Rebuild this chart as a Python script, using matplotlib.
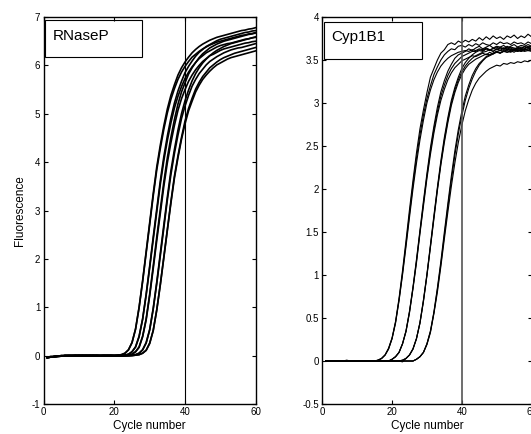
import matplotlib
matplotlib.use("Agg")
import matplotlib.pyplot as plt
from matplotlib.patches import Rectangle

# --------------------------
# DATA
# --------------------------
cycles = list(range(1, 61))

# RNaseP amplification curves (fluorescence per cycle 1..60)
rnasep_1a = [-0.04, -0.03, -0.02, -0.01, -0.01, 0.0, 0.0, 0.0, 0.0, 0.01, 0.0, 0.0, 0.0, 0.0, 0.0, 0.0, 0.0, 0.0, 0.0, 0.0,
             0.01, 0.02, 0.05, 0.12, 0.27, 0.55, 1.0, 1.55, 2.15, 2.75, 3.35, 3.9, 4.35, 4.75, 5.1, 5.38, 5.6, 5.8, 5.95, 6.07,
             6.17, 6.26, 6.33, 6.39, 6.44, 6.48, 6.52, 6.55, 6.58, 6.6, 6.62, 6.64, 6.66, 6.68, 6.7, 6.72, 6.73, 6.75, 6.76, 6.78]
rnasep_1b = [-0.05, -0.03, -0.02, -0.02, -0.01, -0.01, 0.0, 0.0, 0.0, 0.0, 0.0, 0.0, 0.01, 0.0, 0.0, 0.0, 0.0, 0.0, 0.0, 0.0,
             0.01, 0.02, 0.05, 0.12, 0.27, 0.55, 0.99, 1.53, 2.12, 2.71, 3.3, 3.84, 4.28, 4.68, 5.02, 5.3, 5.52, 5.71, 5.86, 5.98,
             6.08, 6.17, 6.23, 6.29, 6.34, 6.38, 6.42, 6.45, 6.48, 6.5, 6.52, 6.54, 6.56, 6.58, 6.6, 6.62, 6.63, 6.65, 6.66, 6.68]
rnasep_2a = [-0.03, -0.03, -0.02, -0.01, 0.0, 0.0, 0.0, 0.0, 0.0, 0.0, 0.01, 0.0, 0.0, 0.0, 0.0, 0.0, 0.0, 0.0, 0.0, 0.0,
             0.0, 0.0, 0.01, 0.03, 0.08, 0.18, 0.4, 0.76, 1.27, 1.85, 2.45, 3.03, 3.61, 4.11, 4.54, 4.91, 5.22, 5.47, 5.67, 5.85,
             5.98, 6.09, 6.19, 6.27, 6.33, 6.39, 6.43, 6.47, 6.51, 6.54, 6.56, 6.58, 6.6, 6.62, 6.64, 6.66, 6.68, 6.69, 6.71, 6.72]
rnasep_2b = [-0.04, -0.03, -0.02, -0.01, -0.01, 0.0, 0.0, 0.0, 0.0, 0.0, 0.0, 0.0, 0.0, 0.01, 0.0, 0.0, 0.0, 0.0, 0.0, 0.0,
             0.0, 0.0, 0.01, 0.03, 0.08, 0.18, 0.39, 0.75, 1.25, 1.82, 2.4, 2.97, 3.54, 4.03, 4.45, 4.81, 5.12, 5.36, 5.56, 5.73,
             5.86, 5.97, 6.06, 6.14, 6.2, 6.26, 6.3, 6.34, 6.38, 6.41, 6.43, 6.45, 6.46, 6.48, 6.5, 6.52, 6.54, 6.55, 6.57, 6.58]
rnasep_3a = [-0.03, -0.02, -0.02, -0.01, 0.0, 0.0, 0.0, 0.0, 0.0, 0.0, 0.0, 0.01, 0.0, 0.0, 0.0, 0.0, 0.0, 0.0, 0.0, 0.0,
             0.0, 0.0, 0.0, 0.01, 0.03, 0.08, 0.18, 0.4, 0.76, 1.27, 1.85, 2.45, 3.02, 3.59, 4.09, 4.51, 4.88, 5.2, 5.45, 5.64,
             5.82, 5.95, 6.06, 6.16, 6.24, 6.3, 6.36, 6.4, 6.44, 6.47, 6.5, 6.52, 6.54, 6.56, 6.58, 6.6, 6.62, 6.64, 6.65, 6.67]
rnasep_3b = [-0.04, -0.02, -0.02, -0.01, -0.01, 0.0, 0.0, 0.0, 0.01, 0.0, 0.0, 0.0, 0.0, 0.0, 0.0, 0.0, 0.0, 0.0, 0.0, 0.0,
             0.0, 0.0, 0.0, 0.01, 0.03, 0.08, 0.17, 0.39, 0.74, 1.24, 1.8, 2.38, 2.94, 3.5, 3.99, 4.4, 4.76, 5.07, 5.31, 5.5,
             5.67, 5.8, 5.91, 6.0, 6.08, 6.14, 6.2, 6.23, 6.27, 6.31, 6.34, 6.36, 6.38, 6.4, 6.42, 6.44, 6.46, 6.47, 6.49, 6.5]
rnasep_4a = [-0.03, -0.03, -0.02, -0.01, 0.0, 0.0, 0.0, 0.0, 0.0, 0.0, 0.0, 0.0, 0.0, 0.0, 0.01, 0.0, 0.0, 0.0, 0.0, 0.0,
             0.0, 0.0, 0.0, 0.0, 0.01, 0.02, 0.05, 0.12, 0.27, 0.54, 0.98, 1.52, 2.11, 2.7, 3.28, 3.82, 4.26, 4.66, 5.0, 5.27,
             5.49, 5.68, 5.83, 5.95, 6.05, 6.13, 6.2, 6.26, 6.31, 6.35, 6.39, 6.42, 6.45, 6.47, 6.49, 6.51, 6.53, 6.55, 6.57, 6.59]
rnasep_4b = [-0.04, -0.03, -0.02, -0.02, -0.01, 0.0, 0.0, 0.0, 0.0, 0.0, 0.0, 0.0, 0.0, 0.0, 0.0, 0.0, 0.01, 0.0, 0.0, 0.0,
             0.0, 0.0, 0.0, 0.0, 0.01, 0.02, 0.05, 0.12, 0.26, 0.53, 0.96, 1.49, 2.06, 2.64, 3.22, 3.74, 4.18, 4.56, 4.9, 5.16,
             5.38, 5.57, 5.71, 5.83, 5.92, 6.01, 6.08, 6.13, 6.18, 6.22, 6.26, 6.29, 6.32, 6.34, 6.36, 6.37, 6.39, 6.41, 6.43, 6.45]
rnasep_5a = [-0.03, -0.02, -0.02, -0.01, -0.01, 0.0, 0.0, 0.0, 0.0, 0.0, 0.0, 0.0, 0.0, 0.0, 0.0, 0.0, 0.0, 0.01, 0.0, 0.0,
             0.0, 0.0, 0.0, 0.0, 0.0, 0.01, 0.02, 0.05, 0.11, 0.26, 0.52, 0.95, 1.47, 2.04, 2.61, 3.18, 3.71, 4.13, 4.51, 4.85,
             5.11, 5.32, 5.51, 5.65, 5.77, 5.86, 5.95, 6.01, 6.07, 6.12, 6.16, 6.19, 6.22, 6.25, 6.27, 6.29, 6.31, 6.33, 6.35, 6.37]
rnasep_5b = [-0.04, -0.03, -0.02, -0.01, -0.01, 0.0, 0.0, 0.0, 0.0, 0.0, 0.0, 0.0, 0.0, 0.0, 0.0, 0.0, 0.0, 0.0, 0.01, 0.0,
             0.0, 0.0, 0.0, 0.0, 0.0, 0.01, 0.02, 0.05, 0.11, 0.25, 0.52, 0.94, 1.46, 2.02, 2.59, 3.15, 3.67, 4.09, 4.47, 4.79,
             5.06, 5.26, 5.45, 5.59, 5.71, 5.8, 5.88, 5.95, 6.01, 6.05, 6.09, 6.13, 6.16, 6.18, 6.2, 6.22, 6.24, 6.26, 6.28, 6.3]

# Cyp1B1 amplification curves (fluorescence per cycle 1..60)
cyp_1a = [0.0, 0.0, 0.0, 0.0, 0.0, 0.0, 0.01, 0.0, 0.0, 0.0, 0.0, 0.0, 0.0, 0.0, 0.0, 0.01, 0.03, 0.07, 0.14, 0.26,
          0.44, 0.7, 1.0, 1.33, 1.67, 2.0, 2.3, 2.57, 2.8, 3.0, 3.15, 3.27, 3.36, 3.43, 3.48, 3.52, 3.55, 3.57, 3.59, 3.6,
          3.61, 3.6, 3.62, 3.61, 3.63, 3.62, 3.64, 3.62, 3.63, 3.65, 3.63, 3.64, 3.62, 3.65, 3.64, 3.63, 3.65, 3.64, 3.66, 3.65]
cyp_1b = [0.0, 0.0, 0.0, 0.0, 0.0, 0.0, 0.0, 0.0, 0.0, 0.0, 0.0, 0.0, 0.0, 0.0, 0.0, 0.01, 0.03, 0.07, 0.15, 0.27,
          0.46, 0.73, 1.05, 1.4, 1.76, 2.1, 2.42, 2.7, 2.92, 3.12, 3.3, 3.4, 3.5, 3.58, 3.62, 3.68, 3.7, 3.68, 3.72, 3.7,
          3.73, 3.71, 3.74, 3.72, 3.76, 3.73, 3.77, 3.74, 3.78, 3.75, 3.77, 3.74, 3.78, 3.76, 3.79, 3.75, 3.78, 3.76, 3.8, 3.77]
cyp_1c = [0.0, 0.0, 0.0, 0.0, 0.0, 0.0, 0.0, 0.0, 0.0, 0.0, 0.0, 0.0, 0.0, 0.0, 0.0, 0.01, 0.03, 0.07, 0.14, 0.26,
          0.45, 0.71, 1.02, 1.36, 1.71, 2.05, 2.36, 2.63, 2.86, 3.05, 3.2, 3.33, 3.42, 3.5, 3.56, 3.6, 3.63, 3.62, 3.66, 3.67,
          3.65, 3.68, 3.66, 3.69, 3.67, 3.7, 3.68, 3.67, 3.7, 3.68, 3.71, 3.69, 3.7, 3.68, 3.71, 3.69, 3.7, 3.68, 3.71, 3.69]
cyp_2a = [0.0, 0.0, 0.0, 0.0, 0.0, 0.0, 0.0, 0.0, 0.0, 0.0, 0.0, 0.0, 0.0, 0.0, 0.0, 0.0, 0.0, 0.0, 0.0, 0.02,
          0.05, 0.1, 0.2, 0.35, 0.57, 0.85, 1.16, 1.5, 1.83, 2.15, 2.44, 2.69, 2.9, 3.08, 3.21, 3.32, 3.4, 3.46, 3.5, 3.54,
          3.56, 3.58, 3.6, 3.6, 3.62, 3.61, 3.63, 3.62, 3.6, 3.63, 3.61, 3.64, 3.62, 3.63, 3.61, 3.64, 3.62, 3.63, 3.65, 3.63]
cyp_2b = [0.0, 0.0, 0.0, 0.0, 0.0, 0.0, 0.0, 0.0, 0.0, 0.0, 0.0, 0.0, 0.0, 0.0, 0.0, 0.0, 0.0, 0.0, 0.0, 0.02,
          0.05, 0.1, 0.2, 0.35, 0.58, 0.86, 1.18, 1.52, 1.86, 2.18, 2.48, 2.73, 2.95, 3.13, 3.26, 3.37, 3.45, 3.52, 3.56, 3.58,
          3.6, 3.63, 3.61, 3.64, 3.66, 3.63, 3.65, 3.67, 3.64, 3.66, 3.65, 3.67, 3.64, 3.66, 3.68, 3.65, 3.67, 3.66, 3.68, 3.66]
cyp_2c = [0.0, 0.0, 0.0, 0.0, 0.0, 0.0, 0.0, 0.0, 0.0, 0.0, 0.0, 0.0, 0.0, 0.0, 0.0, 0.0, 0.0, 0.0, 0.0, 0.02,
          0.05, 0.1, 0.2, 0.34, 0.56, 0.84, 1.14, 1.48, 1.8, 2.12, 2.4, 2.65, 2.86, 3.03, 3.16, 3.27, 3.35, 3.41, 3.45, 3.49,
          3.51, 3.53, 3.55, 3.54, 3.56, 3.58, 3.56, 3.59, 3.57, 3.6, 3.58, 3.6, 3.59, 3.61, 3.59, 3.62, 3.6, 3.61, 3.63, 3.61]
cyp_3a = [0.0, 0.0, 0.0, 0.0, 0.0, 0.0, 0.0, 0.0, 0.0, 0.0, 0.0, 0.0, 0.0, 0.0, 0.0, 0.0, 0.0, 0.0, 0.0, 0.0,
          0.0, 0.0, 0.01, 0.03, 0.07, 0.14, 0.26, 0.44, 0.7, 1.0, 1.33, 1.67, 2.0, 2.3, 2.57, 2.8, 3.0, 3.15, 3.27, 3.36,
          3.43, 3.48, 3.52, 3.55, 3.57, 3.59, 3.6, 3.62, 3.6, 3.63, 3.61, 3.62, 3.64, 3.62, 3.63, 3.61, 3.64, 3.62, 3.63, 3.64]
cyp_3b = [0.0, 0.0, 0.0, 0.0, 0.0, 0.0, 0.0, 0.0, 0.0, 0.0, 0.0, 0.0, 0.0, 0.0, 0.0, 0.0, 0.0, 0.0, 0.0, 0.0,
          0.0, 0.0, 0.01, 0.03, 0.07, 0.14, 0.26, 0.45, 0.71, 1.01, 1.35, 1.69, 2.02, 2.33, 2.6, 2.83, 3.03, 3.18, 3.3, 3.4,
          3.47, 3.52, 3.56, 3.59, 3.61, 3.6, 3.63, 3.61, 3.64, 3.62, 3.65, 3.63, 3.66, 3.64, 3.62, 3.65, 3.63, 3.66, 3.64, 3.66]
cyp_3c = [0.0, 0.0, 0.0, 0.0, 0.0, 0.0, 0.0, 0.0, 0.0, 0.0, 0.0, 0.0, 0.0, 0.0, 0.0, 0.0, 0.0, 0.0, 0.0, 0.0,
          0.0, 0.0, -0.01, 0.03, 0.07, 0.14, 0.26, 0.44, 0.69, 0.99, 1.32, 1.65, 1.98, 2.28, 2.54, 2.77, 2.97, 3.12, 3.24, 3.33,
          3.4, 3.45, 3.48, 3.51, 3.53, 3.55, 3.57, 3.56, 3.58, 3.6, 3.58, 3.61, 3.59, 3.6, 3.62, 3.6, 3.61, 3.63, 3.61, 3.62]
cyp_4a = [0.0, 0.0, 0.0, 0.0, 0.0, 0.0, 0.0, 0.0, 0.0, 0.0, 0.0, 0.0, 0.0, 0.0, 0.0, 0.0, 0.0, 0.0, 0.0, 0.0,
          0.0, 0.0, 0.0, 0.0, 0.0, 0.0, 0.02, 0.05, 0.1, 0.2, 0.35, 0.57, 0.85, 1.16, 1.5, 1.83, 2.15, 2.44, 2.69, 2.9,
          3.08, 3.21, 3.32, 3.4, 3.46, 3.5, 3.54, 3.56, 3.58, 3.6, 3.61, 3.6, 3.62, 3.61, 3.63, 3.62, 3.6, 3.63, 3.61, 3.62]
cyp_4b = [0.0, 0.0, 0.0, 0.0, 0.0, 0.0, 0.0, 0.0, 0.0, 0.0, 0.0, 0.0, 0.0, 0.0, 0.0, 0.0, 0.0, 0.0, 0.0, 0.0,
          0.0, 0.0, 0.0, 0.0, 0.0, 0.0, 0.02, 0.05, 0.1, 0.2, 0.34, 0.56, 0.83, 1.13, 1.46, 1.79, 2.1, 2.39, 2.64, 2.85,
          3.03, 3.17, 3.28, 3.37, 3.44, 3.49, 3.53, 3.55, 3.57, 3.59, 3.58, 3.6, 3.61, 3.59, 3.61, 3.6, 3.62, 3.6, 3.61, 3.6]
cyp_4c = [0.0, 0.0, 0.0, 0.0, 0.0, 0.0, 0.0, 0.0, 0.0, 0.0, 0.0, 0.0, 0.0, 0.0, 0.0, 0.0, 0.0, 0.0, 0.0, 0.0,
          0.0, 0.0, 0.0, 0.0, 0.0, 0.0, 0.02, 0.05, 0.1, 0.19, 0.33, 0.55, 0.8, 1.1, 1.42, 1.73, 2.03, 2.3, 2.54, 2.74,
          2.91, 3.04, 3.15, 3.23, 3.29, 3.33, 3.37, 3.4, 3.42, 3.44, 3.43, 3.46, 3.45, 3.47, 3.46, 3.48, 3.47, 3.49, 3.48, 3.5]

rnasep_curves = [rnasep_1a, rnasep_1b, rnasep_2a, rnasep_2b, rnasep_3a,
                 rnasep_3b, rnasep_4a, rnasep_4b, rnasep_5a, rnasep_5b]
cyp_curves = [cyp_1a, cyp_1b, cyp_1c, cyp_2a, cyp_2b, cyp_2c,
              cyp_3a, cyp_3b, cyp_3c, cyp_4a, cyp_4b, cyp_4c]

xticks = [0, 20, 40, 60]
rnasep_yticks = [-1, 0, 1, 2, 3, 4, 5, 6, 7]
rnasep_yticklabels = ["-1", "0", "1", "2", "3", "4", "5", "6", "7"]
cyp_yticks = [-0.5, 0, 0.5, 1, 1.5, 2, 2.5, 3, 3.5, 4]
cyp_yticklabels = ["-0.5", "0", "0.5", "1", "1.5", "2", "2.5", "3", "3.5", "4"]
threshold_cycle = 40

# --------------------------
# STYLE
# --------------------------
plt.rcParams['font.family'] = ['Liberation Sans', 'DejaVu Sans']
plt.rcParams['axes.linewidth'] = 1.0

fig = plt.figure(figsize=(5.31, 4.34), dpi=100)
ax1 = fig.add_axes([0.0823, 0.0691, 0.3992, 0.8917])
ax2 = fig.add_axes([0.607, 0.0691, 0.394, 0.8917])


def style_axes(ax, yticks, yticklabels, ymin, ymax):
    ax.set_xlim(0, 60)
    ax.set_ylim(ymin, ymax)
    ax.set_xticks(xticks)
    ax.set_xticklabels([str(t) for t in xticks])
    ax.set_yticks(yticks)
    ax.set_yticklabels(yticklabels)
    ax.tick_params(direction="in", top=True, right=True, length=3, width=0.8,
                   labelsize=7, pad=2.5)
    ax.set_xlabel("Cycle number", fontsize=8.5, labelpad=1.5)


# --------------------------
# LEFT PANEL - RNaseP
# --------------------------
for vals in rnasep_curves:
    ax1.plot(cycles, vals, color="black", lw=1.2, solid_joinstyle="round")
ax1.axvline(threshold_cycle, color="black", lw=0.8)
style_axes(ax1, rnasep_yticks, rnasep_yticklabels, -1, 7)
ax1.set_ylabel("Fluorescence", fontsize=8.5, labelpad=4)
ax1.add_patch(Rectangle((0.0075, 0.8974), 0.455, 0.0948, transform=ax1.transAxes,
                        fill=False, ec="black", lw=0.8, zorder=5))
ax1.text(0.045, 0.9406, "RNaseP", transform=ax1.transAxes, fontsize=11,
         va="baseline", ha="left", zorder=6)

# --------------------------
# RIGHT PANEL - Cyp1B1
# --------------------------
for vals in cyp_curves:
    ax2.plot(cycles, vals, color="black", lw=0.8, solid_joinstyle="round")
ax2.axvline(threshold_cycle, color="#555555", lw=1.2)
style_axes(ax2, cyp_yticks, cyp_yticklabels, -0.5, 4)
ax2.add_patch(Rectangle((0.0096, 0.8907), 0.468, 0.0956, transform=ax2.transAxes,
                        fill=False, ec="black", lw=0.8, zorder=5))
ax2.text(0.0416, 0.938, "Cyp1B1", transform=ax2.transAxes, fontsize=11,
         va="baseline", ha="left", zorder=6)

fig.savefig("out.png", dpi=100)
